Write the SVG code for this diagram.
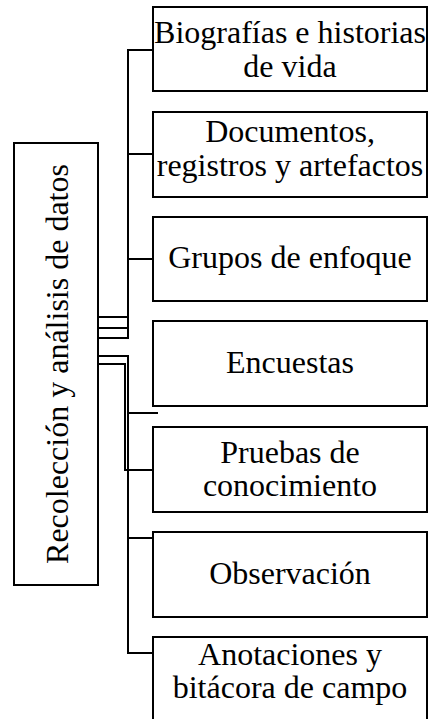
<svg xmlns="http://www.w3.org/2000/svg" width="429" height="719" viewBox="0 0 429 719">
<style>
.box{fill:#fff;stroke:#000;stroke-width:2}
.t{font-family:"Liberation Serif","Times New Roman",serif;font-size:32px;fill:#000;text-anchor:middle}
.c{fill:none;stroke:#000;stroke-width:2}
</style>
<rect x="0" y="0" width="429" height="719" fill="#fff"/>
<g id="connectors">
<path class="c" d="M98,317 H128 V50 H158"/>
<path class="c" d="M98,328 H128 V154 H158"/>
<path class="c" d="M98,338 H128 V259 H158"/>
<path class="c" d="M98,356 H128 V413 H158"/>
<path class="c" d="M98,364 H125 V470 H153"/>
<path class="c" d="M98,356 H128 V538 H158"/>
<path class="c" d="M98,356 H128 V653 H158"/>
</g>
<g id="root">
<rect class="box" x="14" y="143" width="84" height="442"/>
<text class="t" x="68" y="364" transform="rotate(-90 68 364)">Recolección y análisis de datos</text>
</g>
<g id="n1">
<rect class="box" x="153" y="7" width="274" height="84"/>
<text class="t" x="290" y="43">Biografías e historias</text>
<text class="t" x="290" y="77">de vida</text>
</g>
<g id="n2">
<rect class="box" x="153" y="112" width="274" height="85"/>
<text class="t" x="290" y="142">Documentos,</text>
<text class="t" x="290" y="176">registros y artefactos</text>
</g>
<g id="n3">
<rect class="box" x="153" y="217" width="274" height="84"/>
<text class="t" x="290" y="268">Grupos de enfoque</text>
</g>
<g id="n4">
<rect class="box" x="153" y="321" width="274" height="85"/>
<text class="t" x="290" y="373">Encuestas</text>
</g>
<g id="n5">
<rect class="box" x="153" y="427" width="274" height="85"/>
<text class="t" x="290" y="463">Pruebas de</text>
<text class="t" x="290" y="496">conocimiento</text>
</g>
<g id="n6">
<rect class="box" x="153" y="532" width="274" height="85"/>
<text class="t" x="290" y="584">Observación</text>
</g>
<g id="n7">
<rect class="box" x="153" y="637" width="274" height="100"/>
<text class="t" x="290" y="665">Anotaciones y</text>
<text class="t" x="290" y="698">bitácora de campo</text>
</g>
</svg>
